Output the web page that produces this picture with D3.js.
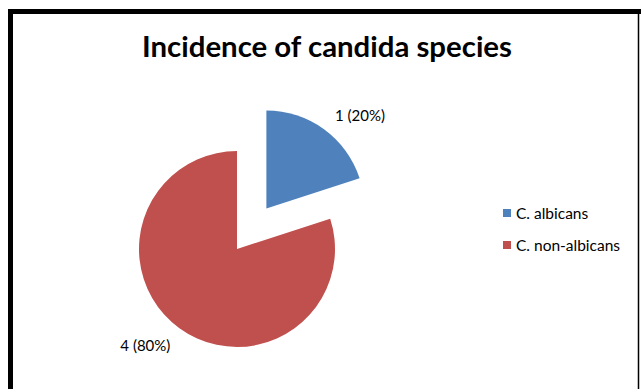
<!DOCTYPE html>
<html>
<head>
<meta charset="utf-8">
<script src="https://cdn.jsdelivr.net/npm/d3@7"></script>
<style>
  body { margin: 0; background: #fff; }
  text { font-family: Lato, "Noto Sans", sans-serif; fill: #000; }
</style>
</head>
<body>
<div class="svg-container"></div>
<script>
// Data
var categories = ["C. albicans", "C. non-albicans"];
var counts = [1, 4];
var pctLabels = ["1 (20%)", "4 (80%)"];
var colors = ["#4F81BD", "#C0504D"];
var title = "Incidence of candida species";

var width = 641, height = 389;

var svg = d3.select(".svg-container").append("svg")
    .attr("width", width)
    .attr("height", height);

svg.append("rect").attr("width", width).attr("height", height).attr("fill", "#fff");

// frame (screenshot of a bordered chart)
svg.append("line").attr("x1", 10.5).attr("y1", 9).attr("x2", 10.5).attr("y2", height)
    .attr("stroke", "#000").attr("stroke-width", 5);
svg.append("line").attr("x1", 8).attr("y1", 11.5).attr("x2", width).attr("y2", 11.5)
    .attr("stroke", "#000").attr("stroke-width", 5);
svg.append("line").attr("x1", 638.5).attr("y1", 12).attr("x2", 638.5).attr("y2", height)
    .attr("stroke", "#000").attr("stroke-width", 1.5);

// Title, fitted to its width in the picture
var t = svg.append("text")
    .attr("x", 327).attr("y", 57)
    .attr("text-anchor", "middle")
    .style("font-weight", "bold")
    .style("font-size", "24px")
    .text(title);
var tw = t.node().getComputedTextLength();
t.style("font-size", (24 * 370 / tw) + "px");

// Pie
var cx = 237, cy = 249, r = 98, explode = 50;

var pie = d3.pie().sort(null).startAngle(0).endAngle(2 * Math.PI);
var arcs = pie(counts);
var arc = d3.arc().innerRadius(0).outerRadius(r);

var g = svg.append("g").attr("transform", "translate(" + cx + "," + cy + ")");

arcs.forEach(function(d, i) {
    var mid = (d.startAngle + d.endAngle) / 2;
    var off = i === 0 ? explode : 0;
    var ox = off * Math.sin(mid), oy = -off * Math.cos(mid);
    var sg = g.append("g").attr("transform", "translate(" + ox + "," + oy + ")");
    sg.append("path")
        .attr("d", arc(d))
        .attr("fill", colors[i]);

    // data label outside end
    var lr = r + 12;
    var lx = lr * Math.sin(mid), ly = -lr * Math.cos(mid);
    var right = Math.sin(mid) > 0, upper = Math.cos(mid) > 0;
    sg.append("text")
        .attr("x", lx + (right ? 4 : -2))
        .attr("y", ly + (upper ? 1 : 0))
        .attr("dy", upper ? "0em" : "0.85em")
        .attr("text-anchor", right ? "start" : "end")
        .style("font-size", "15px")
        .text(pctLabels[i]);
});

// Legend
var legend = svg.append("g").attr("transform", "translate(503,209)");
categories.forEach(function(c, i) {
    var lg = legend.append("g").attr("transform", "translate(0," + (i * 32) + ")");
    lg.append("rect").attr("width", 8).attr("height", 8).attr("fill", colors[i]);
    lg.append("text").attr("x", 13).attr("y", 9.5)
        .style("font-size", "15.5px")
        .text(c);
});
</script>
</body>
</html>
